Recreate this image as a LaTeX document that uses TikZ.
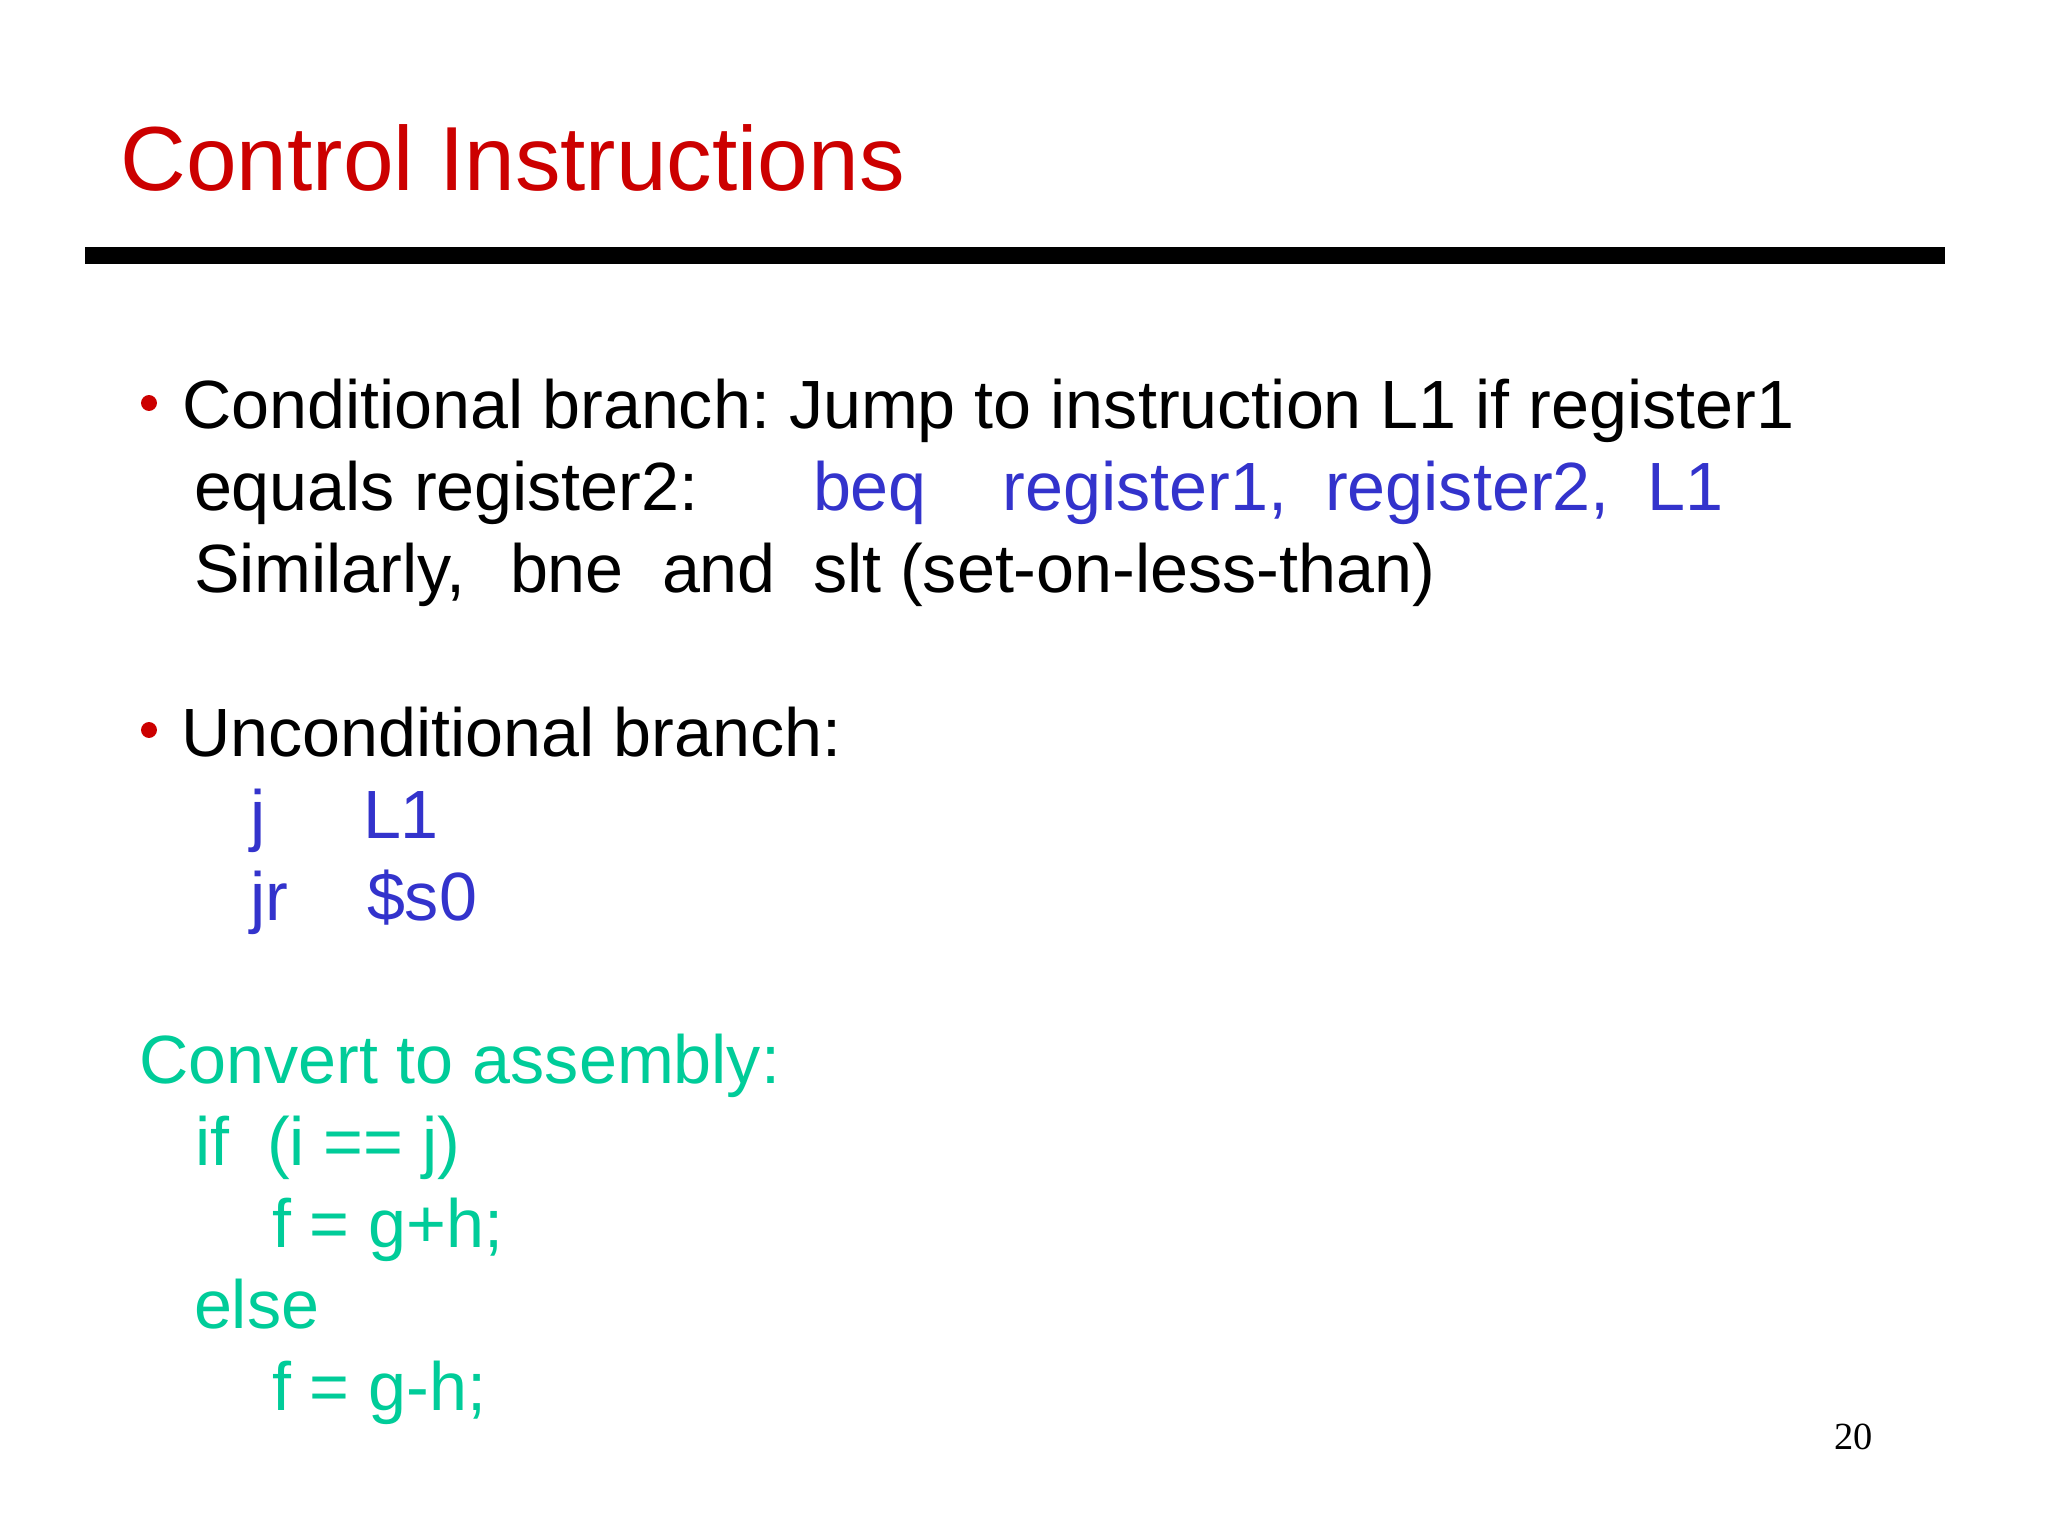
\documentclass[tikz,border=0pt]{standalone}
\usepackage{fontspec}
\setmainfont{Liberation Sans}
\newfontfamily\numfont{Liberation Serif}
\definecolor{titlered}{RGB}{204,0,0}
\definecolor{codeblue}{RGB}{51,51,204}
\definecolor{codegreen}{RGB}{0,204,153}
\frenchspacing
\begin{document}
\begin{tikzpicture}[x=0.3515625pt,y=-0.3515625pt,
  txt/.style={anchor=base west,inner sep=0pt,outer sep=0pt,font=\fontsize{24}{28}\selectfont},
  bl/.style={txt,text=black},
  bu/.style={txt,text=codeblue},
  gr/.style={txt,text=codegreen},
  dot/.style={circle,fill=titlered,inner sep=0pt,minimum size=5.6pt}]
\useasboundingbox[fill=white] (0,0) rectangle (2048,1536);
% title
\node[anchor=base west,inner sep=0pt,text=titlered,font=\fontsize{32}{38}\selectfont] (title) at (120,191) {Control Instructions};
\fill[black] (85,247) rectangle (1945,264);
% bullet 1
\node[dot] (b1) at (149,403) {};
\node[bl] (l1) at (182,429) {Conditional branch: Jump to instruction L1 if register1};
\node[bl] (l2) at (194,511) {equals register2:};
\node[bu] (l2b) at (813,511) {beq\ \ \ \ register1,\ \ register2,\ \ L1};
\node[bl] (l3a) at (194,593) {Similarly,};
\node[bl] (l3b) at (510,593) {bne};
\node[bl] (l3c) at (662,593) {and};
\node[bl] (l3d) at (813,593) {slt (set-on-less-than)};
% bullet 2
\node[dot] (b2) at (149,730) {};
\node[bl] (u1) at (181,756) {Unconditional branch:};
\node[bu] (j1) at (250,838) {j};
\node[bu] (j2) at (363,838) {L1};
\node[bu] (jr1) at (250,920) {jr};
\node[bu] (jr2) at (367,920) {\$s0};
% green code
\node[gr] (c1) at (139,1083) {Convert to assembly:};
\node[gr] (c2) at (195,1165) {if\ \ (i == j)};
\node[gr] (c3) at (272,1247) {f = g+h;};
\node[gr] (c4) at (194,1328) {else};
\node[gr] (c5) at (272,1410) {f = g-h;};
% page number
\node[anchor=base west,inner sep=0pt,font=\numfont\fontsize{13.5}{16}\selectfont] (pg) at (1834,1449) {20};
\end{tikzpicture}
\end{document}
